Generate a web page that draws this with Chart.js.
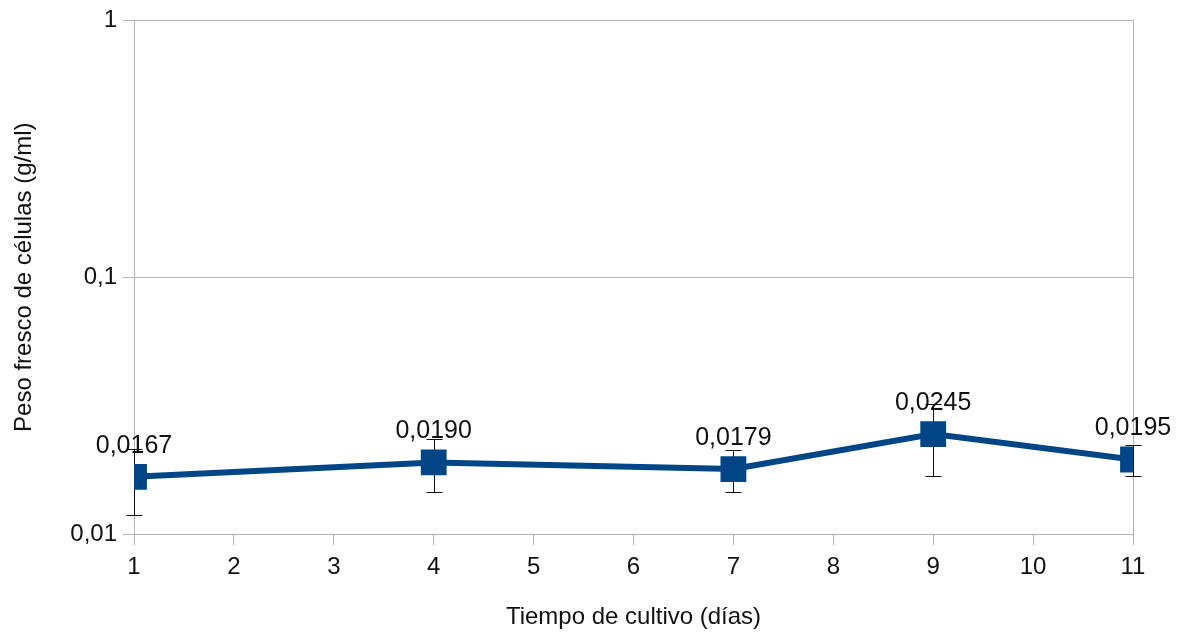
<!DOCTYPE html>
<html>
<head>
<meta charset="utf-8">
<script src="https://cdn.jsdelivr.net/npm/chart.js@4/dist/chart.umd.min.js"></script>
<style>
  html, body { margin: 0; padding: 0; background: #fff; }
  #wrap { width: 1186px; height: 636px; }
</style>
</head>
<body>
<div id="wrap"><canvas id="chart"></canvas></div>
<script>
'use strict';

// culture days and fresh cell weight (g/ml)
const days = [1, 4, 7, 9, 11];
const weights = [0.0167, 0.0190, 0.0179, 0.0245, 0.0195];
const errors = [0.0048, 0.0044, 0.0033, 0.0077, 0.0027];
const yTicks = [0.01, 0.1, 1];

const blue = '#004586';
const gridGrey = '#b3b3b3';
const font = 'Liberation Sans';

const fmt = v => v.toFixed(4).replace('.', ',');

// error bars behind the markers
const errorBars = {
  id: 'errorBars',
  beforeDatasetsDraw(chart) {
    const { ctx, scales: { x, y } } = chart;
    ctx.save();
    ctx.strokeStyle = '#111';
    ctx.lineWidth = 1;
    days.forEach((d, i) => {
      const px = Math.round(x.getPixelForValue(d)) + 0.5;
      const top = Math.round(y.getPixelForValue(weights[i] + errors[i])) + 0.5;
      const bot = Math.round(y.getPixelForValue(weights[i] - errors[i])) + 0.5;
      ctx.beginPath();
      ctx.moveTo(px, top); ctx.lineTo(px, bot);
      ctx.moveTo(px - 8, top); ctx.lineTo(px + 8, top);
      ctx.moveTo(px - 8, bot); ctx.lineTo(px + 8, bot);
      ctx.stroke();
    });
    ctx.restore();
  }
};

// value labels above each point, plus the right-hand frame line
const valueLabels = {
  id: 'valueLabels',
  beforeDraw(chart) {
    const { ctx, chartArea: a } = chart;
    ctx.save();
    ctx.strokeStyle = gridGrey;
    ctx.lineWidth = 1;
    ctx.beginPath();
    ctx.moveTo(Math.round(a.right) + 0.5, a.top);
    ctx.lineTo(Math.round(a.right) + 0.5, a.bottom);
    ctx.stroke();
    ctx.restore();
  },
  afterDatasetsDraw(chart) {
    const { ctx, scales: { x, y } } = chart;
    ctx.save();
    ctx.font = '25px "' + font + '"';
    ctx.fillStyle = '#111';
    ctx.textAlign = 'center';
    ctx.textBaseline = 'middle';
    days.forEach((d, i) => {
      ctx.fillText(fmt(weights[i]), x.getPixelForValue(d), y.getPixelForValue(weights[i]) - 31);
    });
    ctx.restore();
  }
};

new Chart(document.getElementById('chart'), {
  type: 'line',
  data: {
    datasets: [{
      data: days.map((d, i) => ({ x: d, y: weights[i] })),
      borderColor: blue,
      backgroundColor: blue,
      borderWidth: 6,
      pointStyle: 'rect',
      pointRadius: 14,
      pointHoverRadius: 14,
      tension: 0
    }]
  },
  options: {
    responsive: true,
    maintainAspectRatio: false,
    animation: false,
    events: [],
    layout: { padding: { top: 20, right: 53, left: 6, bottom: 0 } },
    plugins: { legend: { display: false }, tooltip: { enabled: false } },
    scales: {
      x: {
        type: 'linear',
        min: 1,
        max: 11,
        afterFit: s => { s.height = 102; },
        ticks: { stepSize: 1, color: '#111', padding: 8, font: { family: font, size: 24 } },
        grid: { drawOnChartArea: false, color: gridGrey, tickLength: 11 },
        border: { color: gridGrey },
        title: {
          display: true,
          text: 'Tiempo de cultivo (días)',
          color: '#111',
          padding: { top: 8 },
          font: { family: font, size: 24 }
        }
      },
      y: {
        type: 'logarithmic',
        min: 0.01,
        max: 1,
        afterFit: s => { s.width = 128; },
        afterBuildTicks: s => { s.ticks = yTicks.map(v => ({ value: v })); },
        ticks: {
          color: '#111',
          padding: 6,
          font: { family: font, size: 24 },
          callback: v => String(v).replace('.', ',')
        },
        grid: { color: gridGrey, tickLength: 11 },
        border: { color: gridGrey },
        title: {
          display: true,
          text: 'Peso fresco de células (g/ml)',
          color: '#111',
          padding: { bottom: 6 },
          font: { family: font, size: 24 }
        }
      }
    }
  },
  plugins: [errorBars, valueLabels]
});
</script>
</body>
</html>
